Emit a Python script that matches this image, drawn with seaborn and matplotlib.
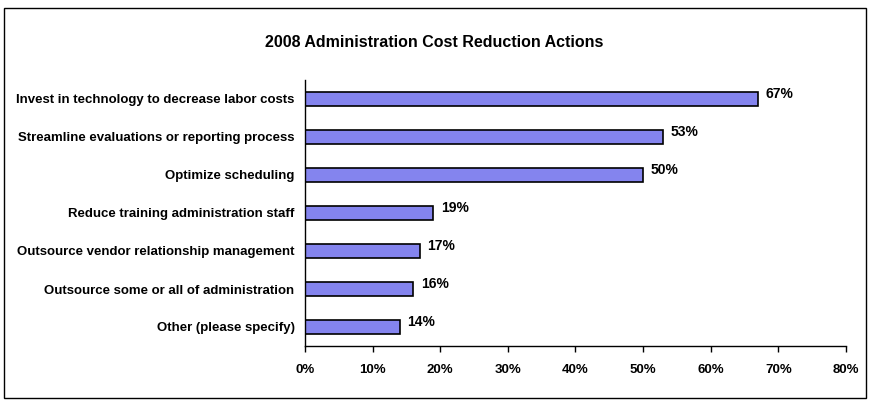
# ===== 2008 Administration Cost Reduction Actions =====
import matplotlib
matplotlib.use('Agg')
import matplotlib.pyplot as plt
import matplotlib.patches as mpatches
import seaborn as sns
import pandas as pd

sns.set_theme(style='white')
plt.rcParams['font.family'] = ['Liberation Sans', 'DejaVu Sans']
plt.rcParams['font.weight'] = 'bold'
plt.rcParams['text.color'] = 'black'

actions = ['Invest in technology to decrease labor costs',
           'Streamline evaluations or reporting process',
           'Optimize scheduling',
           'Reduce training administration staff',
           'Outsource vendor relationship management',
           'Outsource some or all of administration',
           'Other (please specify)']
percent = [67, 53, 50, 19, 17, 16, 14]
x_ticks = [0, 10, 20, 30, 40, 50, 60, 70, 80]

df = pd.DataFrame({'action': actions, 'percent': percent})

fig = plt.figure(figsize=(8.69, 4.0), dpi=100)
ax = fig.add_axes([0.351, 0.135, 0.6225, 0.665])

sns.barplot(data=df, x='percent', y='action', orient='h', color='#8484ee',
            saturation=1, width=0.37, edgecolor='black', linewidth=1.2, ax=ax)

for i, v in enumerate(percent):
    ax.text(v + 1.1, i - 0.12, f'{v}%', va='center', ha='left',
            fontsize=10, fontweight='bold', color='black')

ax.set_xlim(0, 80)
ax.set_ylim(6.5, -0.5)
ax.set_xticks(x_ticks)
ax.set_xticklabels([f'{t}%' for t in x_ticks], fontsize=9.5, fontweight='bold')
ax.set_yticks(range(len(actions)))
ax.set_yticklabels(actions, fontsize=9.5, fontweight='bold')
ax.set_xlabel('')
ax.set_ylabel('')
ax.tick_params(axis='x', which='major', direction='out', length=4, width=1,
               color='black', labelcolor='black', bottom=True, pad=9)
ax.tick_params(axis='y', length=0, pad=7.5, labelcolor='black')

for side in ['top', 'right']:
    ax.spines[side].set_visible(False)
for side in ['left', 'bottom']:
    ax.spines[side].set_color('black')
    ax.spines[side].set_linewidth(1)

fig.text(0.5, 0.893, '2008 Administration Cost Reduction Actions',
         ha='center', va='center', fontsize=11.5, fontweight='bold', color='black')

# outer chart border
border = mpatches.Rectangle((0.005, 0.004), 0.991, 0.976, transform=fig.transFigure,
                            fill=False, edgecolor='black', linewidth=1.0)
fig.patches.append(border)

fig.savefig('out.png', dpi=100)
